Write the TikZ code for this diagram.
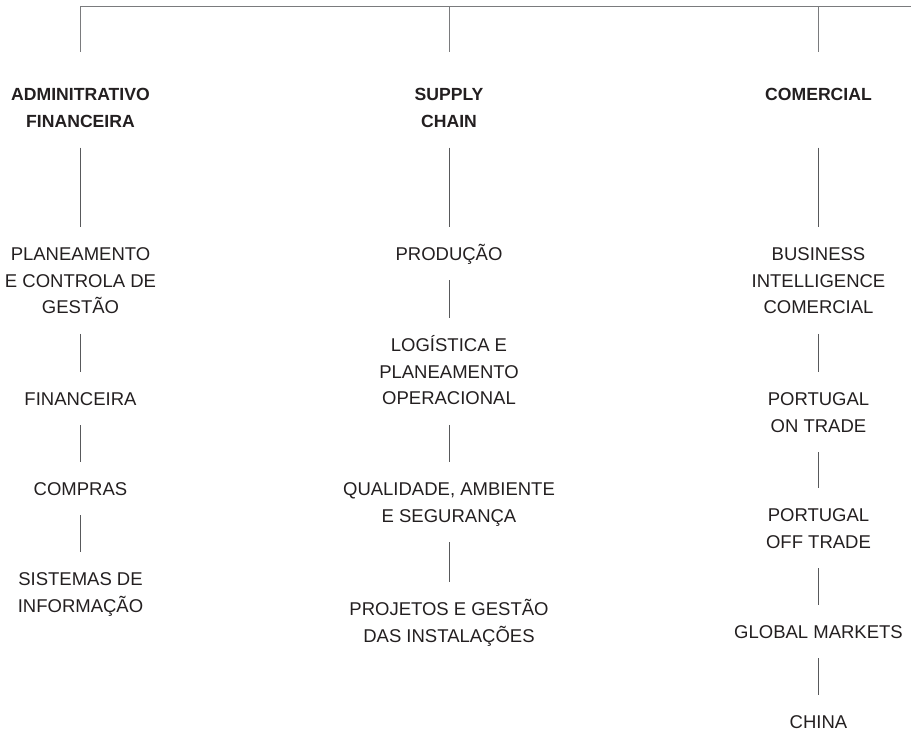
\documentclass[tikz,border=0pt]{standalone}
\usepackage{fontspec}
\setmainfont{Liberation Sans}
\definecolor{txt}{HTML}{231F20}
\definecolor{ln}{HTML}{58595B}
\definecolor{topln}{HTML}{7A7B7D}
\begin{document}
\begin{tikzpicture}[x=1pt,y=-1pt,
  item/.style={anchor=north, align=center, inner sep=0pt, outer sep=0pt, text=txt,
     font=\fontsize{18.5}{26.8}\selectfont, text height=13.25pt, text depth=0pt},
  ltwo/.style={text height=40.05pt},
  lthree/.style={text height=66.85pt},
  head/.style={item, font=\fontsize{17.6}{27}\selectfont\bfseries, text height=39.6pt, text depth=0pt},
  headone/.style={head, text height=12.6pt, text depth=27pt},
  conn/.style={draw=ln, line width=0.9pt, shorten <=20pt, shorten >=20pt},
  topline/.style={draw=topln, line width=1pt}]
\useasboundingbox (0,0) rectangle (911,734);
% column 1
\node[head] (a0) at (80.5,88) {ADMINITRATIVO\\FINANCEIRA};
\node[item,lthree] (a1) at (80.5,247) {PLANEAMENTO\\E CONTROLA DE\\GESTÃO};
\node[item] (a2) at (80.5,392) {FINANCEIRA};
\node[item] (a3) at (80.5,482) {COMPRAS};
\node[item,ltwo] (a4) at (80.5,572) {SISTEMAS DE\\INFORMAÇÃO};
% column 2
\node[head] (b0) at (449,88) {SUPPLY\\CHAIN};
\node[item] (b1) at (449,247) {PRODUÇÃO};
\node[item,lthree] (b2) at (449,338) {LOGÍSTICA E\\PLANEAMENTO\\OPERACIONAL};
\node[item,ltwo] (b3) at (449,482) {QUALIDADE, AMBIENTE\\E SEGURANÇA};
\node[item,ltwo] (b4) at (449,602) {PROJETOS E GESTÃO\\DAS INSTALAÇÕES};
% column 3
\node[headone] (c0) at (818.5,88) {COMERCIAL};
\node[item,lthree] (c1) at (818.5,247) {BUSINESS\\INTELLIGENCE\\COMERCIAL};
\node[item,ltwo] (c2) at (818.5,392) {PORTUGAL\\ON TRADE};
\node[item,ltwo] (c3) at (818.5,508) {PORTUGAL\\OFF TRADE};
\node[item] (c4) at (818.5,625) {GLOBAL MARKETS};
\node[item] (c5) at (818.5,715) {CHINA};
% top connectors
\coordinate (t1) at (80.5,6);
\coordinate (t2) at (449,6);
\coordinate (t3) at (818.5,6);
\coordinate (tr) at (911,6);
\draw[topline] (t1) -- (tr);
\draw[topline, shorten >=36pt] (t1) -- (a0);
\draw[topline, shorten >=36pt] (t2) -- (b0);
\draw[topline, shorten >=36pt] (t3) -- (c0);
% chains
\draw[conn] (a0) -- (a1);
\draw[conn] (a1) -- (a2);
\draw[conn] (a2) -- (a3);
\draw[conn] (a3) -- (a4);
\draw[conn] (b0) -- (b1);
\draw[conn] (b1) -- (b2);
\draw[conn] (b2) -- (b3);
\draw[conn] (b3) -- (b4);
\draw[conn] (c0) -- (c1);
\draw[conn] (c1) -- (c2);
\draw[conn] (c2) -- (c3);
\draw[conn] (c3) -- (c4);
\draw[conn] (c4) -- (c5);
\end{tikzpicture}
\end{document}
